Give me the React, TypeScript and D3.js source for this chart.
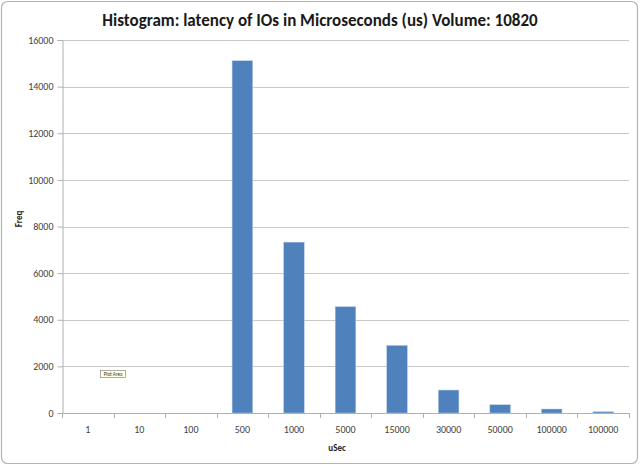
// @ts-nocheck
import React, { useEffect, useRef } from 'react';
import * as d3 from 'd3';

const width = 640, height = 465;

const categories = ['1', '10', '100', '500', '1000', '5000', '15000', '30000', '50000', '100000', '100000 '];
const counts = [0, 0, 0, 15110, 7330, 4560, 2900, 985, 355, 171, 56];
const yTicks = [0, 2000, 4000, 6000, 8000, 10000, 12000, 14000, 16000];

const title = 'Histogram: latency of IOs in Microseconds (us) Volume: 10820';
const font = "Calibri, Carlito, 'Liberation Sans', sans-serif";

const margin = { top: 40, right: 10, bottom: 52, left: 62 };

export default function App() {
  const ref = useRef(null);

  useEffect(() => {
    d3.select(ref.current).selectAll('*').remove();

    const svg = d3.select(ref.current).append('svg')
      .attr('width', width)
      .attr('height', height)
      .style('display', 'block');

    /* Frame */
    svg.append('rect')
      .attr('x', 1.5).attr('y', 1.5)
      .attr('width', width - 4).attr('height', height - 3)
      .attr('rx', 6)
      .attr('fill', '#fff')
      .attr('stroke', '#a9b8b4')
      .attr('stroke-width', 1.2);

    const x = d3.scaleBand()
      .domain(categories)
      .range([margin.left, width - margin.right - 1])
      .paddingInner(0.6)
      .paddingOuter(0.3);

    const y = d3.scaleLinear()
      .domain([0, 16000])
      .range([height - margin.bottom, margin.top]);

    /* Grid */
    svg.append('g')
      .selectAll('line')
      .data(yTicks.slice(1))
      .join('line')
      .attr('x1', margin.left).attr('x2', width - margin.right - 1)
      .attr('y1', d => Math.round(y(d)) + 0.5).attr('y2', d => Math.round(y(d)) + 0.5)
      .attr('stroke', '#c8c8c8');

    /* Bars */
    svg.append('g')
      .selectAll('rect')
      .data(counts)
      .join('rect')
      .attr('x', (d, i) => x(categories[i]))
      .attr('width', x.bandwidth())
      .attr('y', d => y(d))
      .attr('height', d => y(0) - y(d))
      .attr('fill', '#4f81bd')
      .attr('stroke', '#b9cde5')
      .attr('stroke-width', 0.5);

    /* Y axis */
    const yAxis = svg.append('g')
      .attr('transform', `translate(${margin.left + 0.5},0)`)
      .call(d3.axisLeft(y).tickValues(yTicks).tickSize(5).tickPadding(4).tickFormat(d3.format('d')));
    yAxis.select('.domain').attr('stroke', '#b0b0b0');
    yAxis.selectAll('.tick line').attr('stroke', '#b0b0b0');
    yAxis.selectAll('text')
      .attr('font-family', font).attr('font-size', 10).attr('fill', '#404040');

    /* X axis */
    const step = x.step();
    const x0 = margin.left;
    const boundaries = d3.range(categories.length + 1).map(i => x0 + i * step);
    const xg = svg.append('g');
    xg.append('line')
      .attr('x1', margin.left).attr('x2', width - margin.right - 1)
      .attr('y1', Math.round(y(0)) + 0.5).attr('y2', Math.round(y(0)) + 0.5)
      .attr('stroke', '#b0b0b0');
    xg.selectAll('line.tk')
      .data(boundaries)
      .join('line')
      .attr('class', 'tk')
      .attr('x1', d => Math.round(d) + 0.5).attr('x2', d => Math.round(d) + 0.5)
      .attr('y1', y(0)).attr('y2', y(0) + 5)
      .attr('stroke', '#b0b0b0');
    xg.selectAll('text')
      .data(categories)
      .join('text')
      .attr('x', d => x(d) + x.bandwidth() / 2)
      .attr('y', y(0) + 20)
      .attr('text-anchor', 'middle')
      .attr('font-family', font).attr('font-size', 10).attr('fill', '#404040')
      .text(d => d.trim());

    /* Titles */
    svg.append('text')
      .attr('x', width / 2).attr('y', 26)
      .attr('text-anchor', 'middle')
      .attr('font-family', font).attr('font-size', 17).attr('font-weight', 'bold')
      .attr('fill', '#1a1a1a')
      .text(title);

    svg.append('text')
      .attr('transform', 'translate(22,219) rotate(-90)')
      .attr('text-anchor', 'middle')
      .attr('font-family', font).attr('font-size', 9).attr('font-weight', 'bold')
      .attr('fill', '#1a1a1a')
      .text('Freq');

    svg.append('text')
      .attr('x', 337).attr('y', 451)
      .attr('text-anchor', 'middle')
      .attr('font-family', font).attr('font-size', 9).attr('font-weight', 'bold')
      .attr('fill', '#1a1a1a')
      .text('uSec');

    /* Plot Area tooltip */
    const tip = svg.append('g').attr('transform', 'translate(100.5,370.5)');
    tip.append('rect')
      .attr('width', 25).attr('height', 7)
      .attr('fill', '#ffffe1').attr('stroke', '#767676').attr('stroke-width', 0.6);
    tip.append('text')
      .attr('x', 12.5).attr('y', 5.5)
      .attr('text-anchor', 'middle')
      .attr('font-family', font).attr('font-size', 5).attr('fill', '#333')
      .text('Plot Area');
  }, []);

  return <div ref={ref} style={{ position: 'absolute', left: 0, top: 0 }} />;
}
